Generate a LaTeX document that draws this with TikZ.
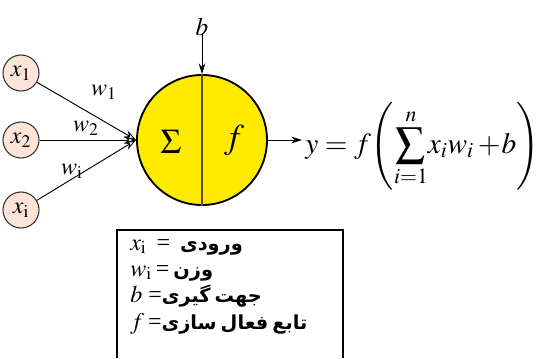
\documentclass[tikz,border=0pt]{standalone}
\usepackage{mathptmx}
\usepackage{fontspec}
\setmainfont{Liberation Serif}
\newfontfamily\arabicfont[Script=Arabic,WordSpace=0.6]{DejaVu Sans}
\TeXXeTstate=1
\usetikzlibrary{arrows.meta}
\definecolor{peach}{HTML}{FCE4D6}
\definecolor{neuronyellow}{HTML}{FFEB00}
\definecolor{divider}{HTML}{5A4A10}
\newcommand{\fa}[1]{{\arabicfont\bfseries\fontsize{14.5}{14.5}\selectfont\beginR #1\endR}}
\begin{document}
\begin{tikzpicture}[x=0.75pt,y=-0.75pt,
  inp/.style={circle,draw=black!80,fill=peach,line width=0.8pt,minimum size=27pt,inner sep=0pt,font=\fontsize{18}{18}\selectfont},
  neur/.style={circle,draw=black,fill=neuronyellow,line width=1.4pt,minimum size=97.5pt,inner sep=0pt},
  conn/.style={line width=0.7pt,-{Stealth[length=9pt,width=6pt,open]}},
  arr/.style={line width=0.7pt,-{Stealth[length=8pt,width=5pt]}},
  lbl/.style={inner sep=0pt,font=\fontsize{18}{18}\selectfont},
  boxtxt/.style={anchor=base west,inner sep=0pt,font=\fontsize{18}{18}\selectfont}]
\useasboundingbox (0,0) rectangle (542,358);
% inputs
\node[inp] (x1) at (21,73) {$x_{\mathrm{1}}$};
\node[inp] (x2) at (21,140) {$x_{\mathrm{2}}$};
\node[inp] (xi) at (21,210) {$x_{\mathrm{i}}$};
% neuron
\node[neur] (n) at (202,140) {};
\draw[divider,line width=0.8pt] (n.north) -- (n.south);
\node[lbl,font=\fontsize{26}{26}\selectfont] (sig) at (171,142) {$\Sigma$};
\node[lbl,font=\fontsize{26}{26}\selectfont] (fn) at (234,140) {$f$};
% connectors
\draw[conn] (x1) -- (n.west);
\draw[conn] (x2) -- (n.west);
\draw[conn] (xi) -- (n.west);
\node[lbl] (w1) at (104,92) {$w_{\mathrm{1}}$};
\node[lbl] (w2) at (86,128) {$w_{\mathrm{2}}$};
\node[lbl] (wi) at (72,171) {$w_{\mathrm{i}}$};
% bias
\node[lbl,font=\fontsize{19}{19}\selectfont] (b) at (202,27) {$b$};
\draw[arr] (b.south) ++(0,-3) coordinate (bs) -- (n.north);
% output
\coordinate (out) at (302,140);
\draw[arr] (n.east) -- (out);
\node[anchor=west,inner sep=0pt,font=\fontsize{22}{22}\selectfont] (eq) at (305,146)
  {$\displaystyle y=f\!\left(\sum_{i=1}^{n}\!x_iw_i+\!b\right)$};
% legend box
\draw[line width=0.9pt] (117,358) coordinate (bl) -- (117,230) -- (343,230) -- (343,358) coordinate (br);
\node[boxtxt] (l1) at (130,250) {$x_{\mathrm{i}}$\ \,=\ \,\fa{ورودی}};
\node[boxtxt] (l2) at (130,276) {$w_{\mathrm{i}}$\,=\,\fa{وزن}};
\node[boxtxt] (l3) at (130,302) {$b$\ =\fa{جهت گیری}};
\node[boxtxt] (l4) at (130,329) {$f$\,=\fa{تابع فعال سازی}};
\end{tikzpicture}
\end{document}
